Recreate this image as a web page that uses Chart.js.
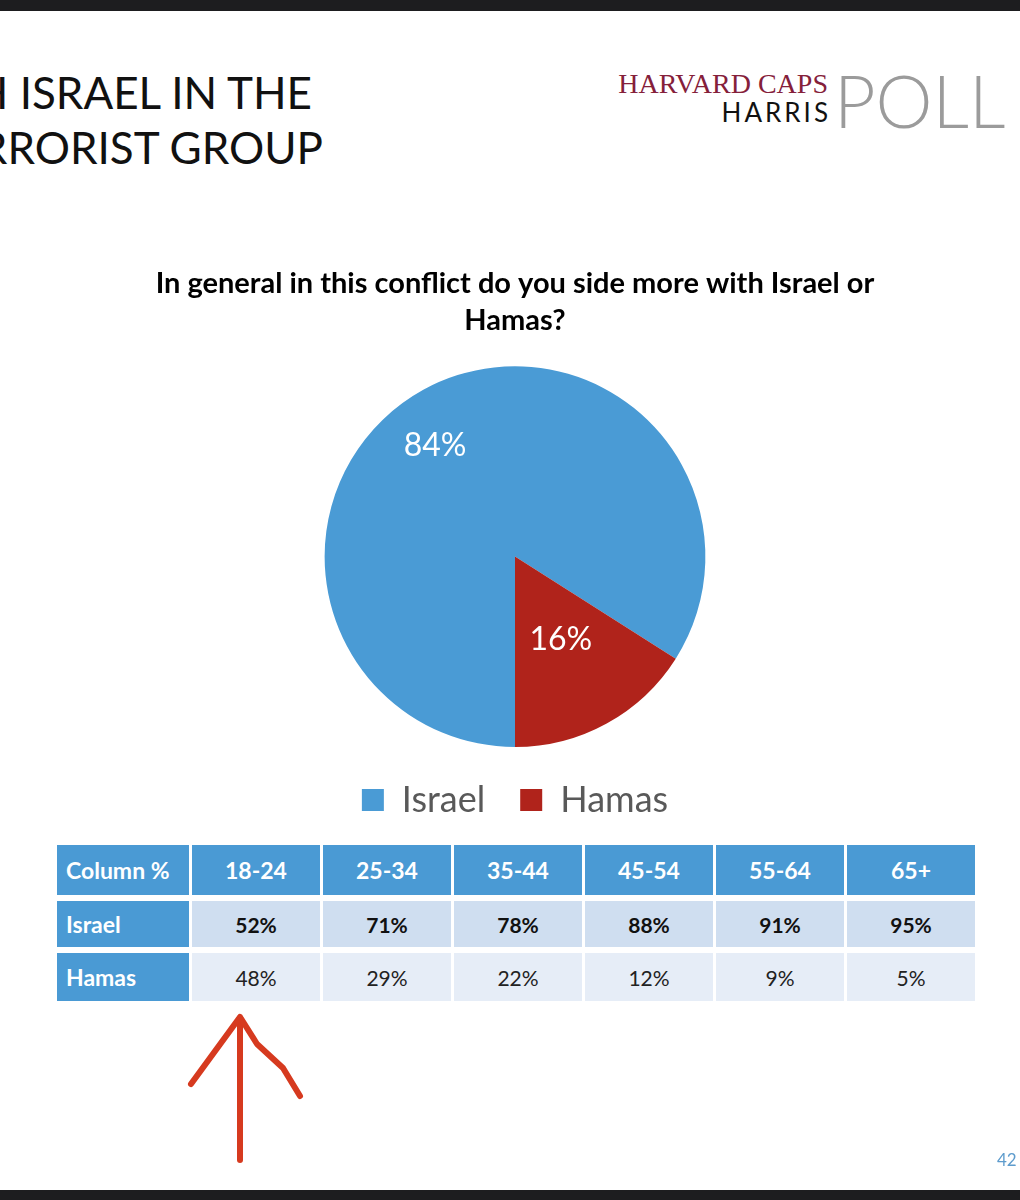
<!DOCTYPE html>
<html>
<head>
<meta charset="utf-8">
<script src="https://cdn.jsdelivr.net/npm/chart.js@4.4.0/dist/chart.umd.min.js"></script>
<style>
  body { margin: 0; width: 1020px; height: 1200px; background: #ffffff; position: relative; overflow: hidden; font-family: Lato, "Open Sans", sans-serif; }
  .bar { position: absolute; left: 0; width: 1020px; background: #1d1d1f; }
  .slideTitle { position: absolute; width: 612px; text-align: right; font-size: 44px; color: #111; white-space: nowrap; line-height: 1; }
  .logo { position: absolute; white-space: nowrap; line-height: 1; }
  #chartBox { position: absolute; left: 0; top: 255px; width: 1020px; height: 573px; }
  table.ages { position: absolute; left: 54px; top: 839px; border-collapse: separate; border-spacing: 3px 6px; font-family: Lato, sans-serif; font-size: 21px; }
  table.ages td { text-align: center; padding: 0; }
  table.ages td.hd { background: #4a9ad4; color: #fff; font-weight: bold; font-size: 23px; height: 50px; width: 128px; }
  table.ages td.rowHd { background: #4a9ad4; color: #fff; font-weight: bold; font-size: 23px; text-align: left; padding-left: 9px; width: 123px; }
  table.ages tr.isr td.val { background: #cfdef0; font-weight: bold; color: #111; height: 46px; }
  table.ages tr.ham td.val { background: #e6edf7; color: #222; height: 48px; }
  #pageNo { position: absolute; left: 997px; top: 1149px; font-size: 17px; color: #5e9ccd; }
</style>
</head>
<body>
<div class="bar" style="top:0;height:11px"></div>
<div class="bar" style="top:1190px;height:10px"></div>

<div class="slideTitle" style="left:-300px;top:70px">H ISRAEL IN THE</div>
<div class="slideTitle" style="left:-289px;top:125px">TERRORIST GROUP</div>

<div class="logo" style="left:500px;width:328px;text-align:right;top:70px;font-family:'Liberation Serif',serif;font-size:28px;color:#85203a">HARVARD CAPS</div>
<div class="logo" style="left:600px;width:231px;text-align:right;top:99px;font-family:Lato,sans-serif;font-size:26px;letter-spacing:3px;color:#111">HARRIS</div>
<div class="logo" style="left:834px;top:64px;font-family:Lato,sans-serif;font-weight:300;font-size:72px;color:#9b9b9b">POLL</div>

<div id="chartBox"><canvas id="pieChart"></canvas></div>

<table class="ages" id="ageTable"></table>

<svg style="position:absolute;left:0;top:0" width="1020" height="1200">
  <g fill="none" stroke="#d63a1f" stroke-width="6" stroke-linecap="round" stroke-linejoin="round">
    <path d="M240 1160 L240 1018"/>
    <path d="M191 1084 L240 1017 L257 1044 L283 1068 L300 1096"/>
  </g>
</svg>

<div id="pageNo">42</div>

<script>
// pie data
var sliceLabels = ['Israel', 'Hamas'];
var sliceValues = [84, 16];
var sliceColors = ['#4a9bd5', '#b0231b'];

// age breakdown table
var ageGroups = ['18-24', '25-34', '35-44', '45-54', '55-64', '65+'];
var israelByAge = [52, 71, 78, 88, 91, 95];
var hamasByAge = [48, 29, 22, 12, 9, 5];

// build table
var table = document.getElementById('ageTable');
var html = '<tr><td class="hd rowHd">Column %</td>';
ageGroups.forEach(function (g) { html += '<td class="hd">' + g + '</td>'; });
html += '</tr><tr class="isr"><td class="rowHd">Israel</td>';
israelByAge.forEach(function (v) { html += '<td class="val">' + v + '%</td>'; });
html += '</tr><tr class="ham"><td class="rowHd">Hamas</td>';
hamasByAge.forEach(function (v) { html += '<td class="val">' + v + '%</td>'; });
html += '</tr>';
table.innerHTML = html;

// percent labels inside the slices
var sliceLabelPlugin = {
    id: 'sliceLabels',
    afterDatasetsDraw: function (chart) {
        var ctx = chart.ctx;
        var meta = chart.getDatasetMeta(0);
        var dist = [0.72, 0.5];
        var shift = [-0.12, 0];   // Excel nudges the big label a bit
        ctx.save();
        ctx.fillStyle = '#ffffff';
        ctx.font = '32px Lato, sans-serif';
        ctx.textAlign = 'center';
        ctx.textBaseline = 'middle';
        meta.data.forEach(function (arc, i) {
            var p = arc.getProps(['x', 'y', 'startAngle', 'endAngle', 'outerRadius'], true);
            var mid = (p.startAngle + p.endAngle) / 2 + shift[i];
            var r = p.outerRadius * dist[i];
            ctx.fillText(sliceValues[i] + '%', p.x + Math.cos(mid) * r, p.y + Math.sin(mid) * r);
        });
        ctx.restore();
    }
};

var pieChart = document.getElementById('pieChart').getContext('2d');
var pieChart = new Chart(pieChart, {
    type: 'pie',
    plugins: [sliceLabelPlugin],
    data: {
        labels: sliceLabels,
        datasets: [{
            data: sliceValues,
            backgroundColor: sliceColors,
            borderWidth: 0
        }]
    },
    options: {
        responsive: true,
        maintainAspectRatio: false,
        animation: false,
        rotation: 180,
        layout: { padding: { left: 10 } },
        plugins: {
            tooltip: { enabled: false },
            title: {
                display: true,
                text: ['In general in this conflict do you side more with Israel or', 'Hamas?'],
                color: '#000',
                font: { family: 'Lato', size: 29, weight: 'bold', lineHeight: 1.28 },
                padding: { top: 10, bottom: 27 }
            },
            legend: {
                position: 'bottom',
                labels: {
                    color: '#595959',
                    font: { family: 'Lato', size: 36 },
                    boxWidth: 22,
                    boxHeight: 22,
                    padding: 35
                }
            }
        }
    }
});
</script>
</body>
</html>
